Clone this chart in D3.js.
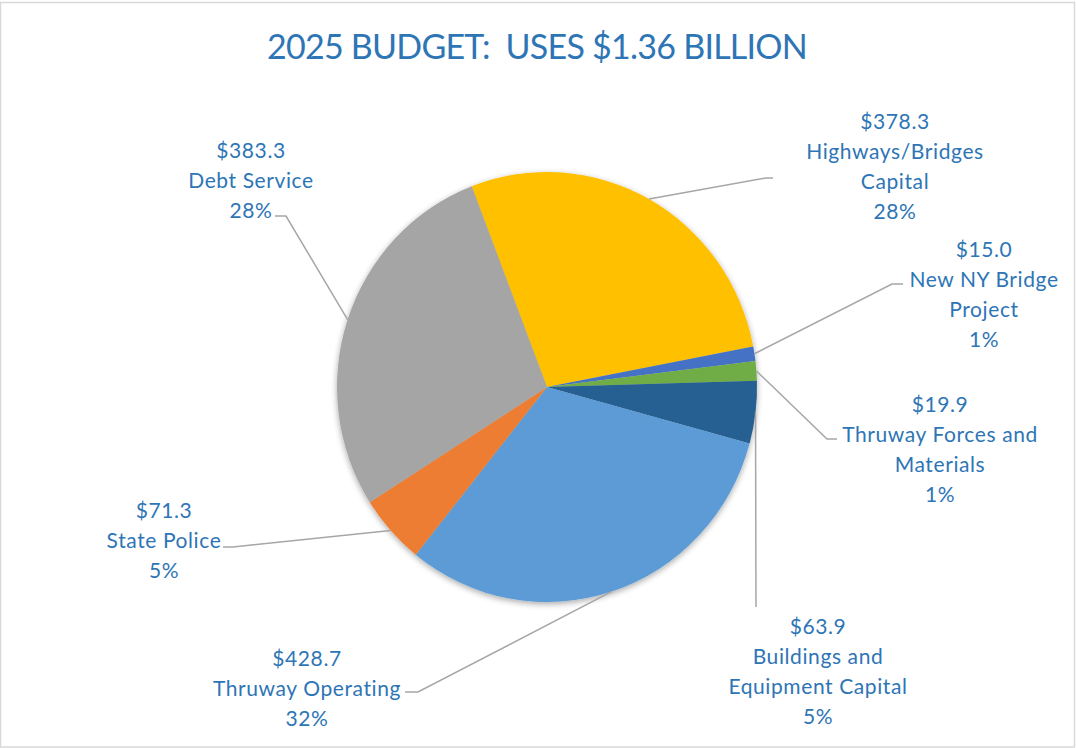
<!DOCTYPE html>
<html>
<head>
<meta charset="utf-8">
<script src="https://cdn.jsdelivr.net/npm/d3@7"></script>
<style>
  html, body { margin: 0; padding: 0; background: #fff; }
  svg { display: block; }
  text { font-family: Lato, "Open Sans", sans-serif; }
</style>
</head>
<body>
<svg id="chart" width="1076" height="748"></svg>
<script>
// Budget uses, in millions of dollars, listed clockwise
const categories = [
  "Highways/Bridges Capital",
  "New NY Bridge Project",
  "Thruway Forces and Materials",
  "Buildings and Equipment Capital",
  "Thruway Operating",
  "State Police",
  "Debt Service"
];
const amounts = [378.3, 15.0, 19.9, 63.9, 428.7, 71.3, 383.3];
const labelLines = [
  ["Highways/Bridges", "Capital"],
  ["New NY Bridge", "Project"],
  ["Thruway Forces and", "Materials"],
  ["Buildings and", "Equipment Capital"],
  ["Thruway Operating"],
  ["State Police"],
  ["Debt Service"]
];
const sliceColors = ["#FFC000", "#4472C4", "#70AD47", "#255E91", "#5B9BD5", "#ED7D31", "#A5A5A5"];
const titleText = "2025 BUDGET:  USES $1.36 BILLION";

// Layout
const W = 1076, H = 748;
const cx = 547, cy = 387, rx = 210, ry = 215;
const startDeg = -21;
const textColor = "#2E75B6";
const lineGap = 30;
// label block centre x, first line centre y, leader end (at label) and elbow
const labelLayout = [
  { x: 895, y: 121, end: [773, 178], elbow: [766, 178] },
  { x: 984, y: 249, end: [903, 284], elbow: [892, 284] },
  { x: 940, y: 404, end: [837, 439], elbow: [827, 439] },
  { x: 818, y: 626, end: [756, 607], elbow: [756, 607] },
  { x: 307, y: 658, end: [405, 692], elbow: [418, 692] },
  { x: 164, y: 510, end: [223, 547], elbow: [233, 547] },
  { x: 251, y: 150, end: [275, 216], elbow: [286, 216] }
];

const svg = d3.select("#chart");

// chart area border
svg.append("rect")
  .attr("x", 0.5).attr("y", 2.5)
  .attr("width", W - 2).attr("height", H - 3.5)
  .attr("fill", "#fff")
  .attr("stroke", "#D9D9D9")
  .attr("stroke-width", 1.5);

// soft shadow under the pie
const defs = svg.append("defs");
const f = defs.append("filter").attr("id", "pieShadow")
  .attr("x", "-10%").attr("y", "-10%").attr("width", "120%").attr("height", "120%");
f.append("feGaussianBlur").attr("in", "SourceAlpha").attr("stdDeviation", 3).attr("result", "b");
f.append("feOffset").attr("in", "b").attr("dx", 0).attr("dy", 2).attr("result", "o");
f.append("feComponentTransfer").attr("in", "o").attr("result", "s")
  .append("feFuncA").attr("type", "linear").attr("slope", 0.35);
const m = f.append("feMerge");
m.append("feMergeNode").attr("in", "s");
m.append("feMergeNode").attr("in", "SourceGraphic");

// title
svg.append("text")
  .attr("x", 537).attr("y", 59)
  .attr("text-anchor", "middle")
  .attr("fill", textColor)
  .attr("font-size", 34)
  .attr("letter-spacing", -0.75)
  .style("white-space", "pre")
  .text(titleText);

const total = d3.sum(amounts);
const data = categories.map((c, i) => ({ name: c, value: amounts[i], lines: labelLines[i], color: sliceColors[i], layout: labelLayout[i] }));

const a0 = startDeg * Math.PI / 180;
const pie = d3.pie().value(d => d.value).sort(null).startAngle(a0).endAngle(a0 + 2 * Math.PI);
const arcs = pie(data);
const arc = d3.arc().innerRadius(0).outerRadius(rx);

// slices
svg.append("g")
  .attr("transform", `translate(${cx},${cy}) scale(1,${ry / rx})`)
  .attr("filter", "url(#pieShadow)")
  .selectAll("path")
  .data(arcs)
  .join("path")
  .attr("d", arc)
  .attr("fill", d => d.data.color);

// leader lines from each slice's outer edge to its label
const edgePoint = d => {
  const a = (d.startAngle + d.endAngle) / 2;
  return [cx + rx * Math.sin(a), cy - ry * Math.cos(a)];
};
const line = d3.line();
svg.append("g")
  .selectAll("path")
  .data(arcs)
  .join("path")
  .attr("d", d => line([d.data.layout.end, d.data.layout.elbow, edgePoint(d)]))
  .attr("fill", "none")
  .attr("stroke", "#A6A6A6")
  .attr("stroke-width", 1.5);

// data labels: value, category, share
const fmtMoney = v => "$" + v.toFixed(1);
const labels = svg.append("g")
  .selectAll("text")
  .data(arcs)
  .join("text")
  .attr("text-anchor", "middle")
  .attr("fill", textColor)
  .attr("font-size", 21)
  .attr("letter-spacing", 0.6);

labels.each(function(d) {
  const L = d.data.layout;
  const rows = [fmtMoney(d.data.value), ...d.data.lines, Math.round(d.data.value / total * 100) + "%"];
  d3.select(this).selectAll("tspan")
    .data(rows)
    .join("tspan")
    .attr("x", L.x)
    .attr("y", (r, i) => L.y + i * lineGap + 7.5)
    .text(r => r);
});
</script>
</body>
</html>
